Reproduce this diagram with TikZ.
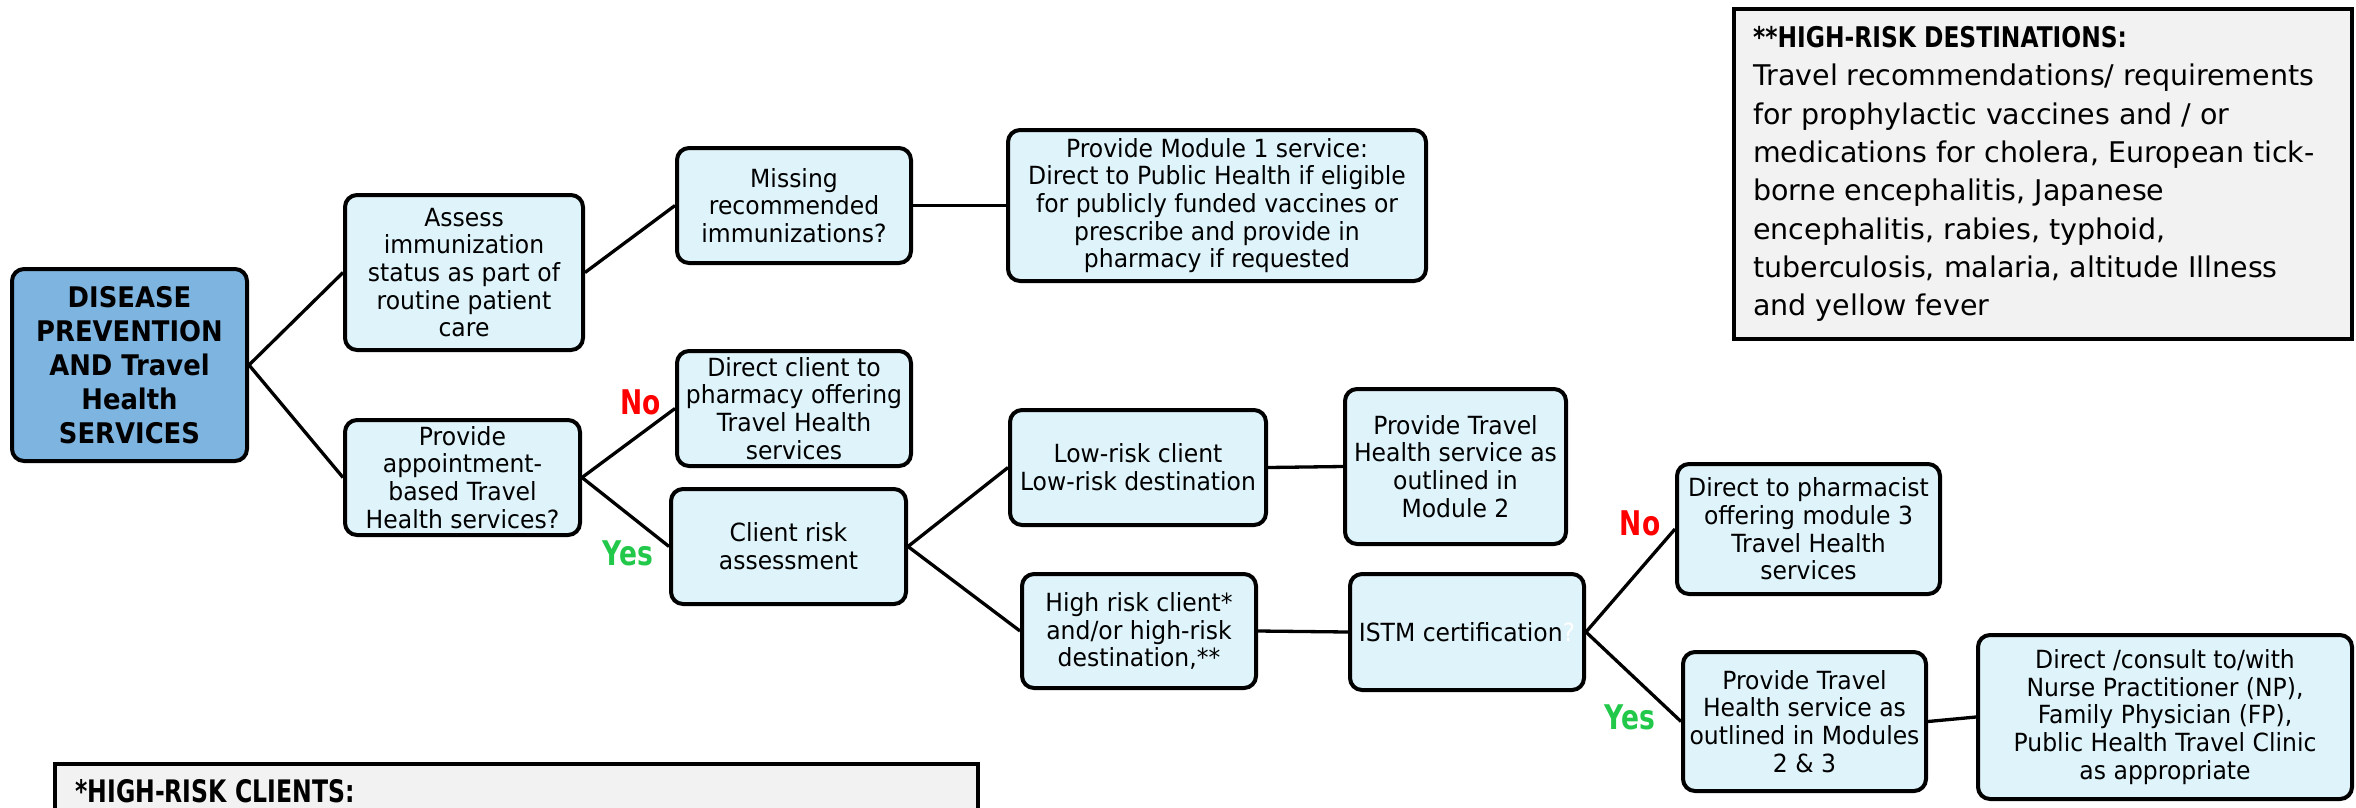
\documentclass[tikz,border=0pt]{standalone}
\usepackage{fontspec}
\setmainfont{DejaVu Sans}
\newfontfamily\flowfont[FakeStretch=0.94]{DejaVu Sans}
\newfontfamily\mainboxfont[FakeStretch=0.91]{DejaVu Sans}
\newfontfamily\headfont[FakeStretch=0.82]{DejaVu Sans}
\newfontfamily\clienthead[FakeStretch=0.76]{DejaVu Sans}
\newfontfamily\labfont[FakeStretch=0.78]{DejaVu Sans}
\newfontfamily\destfont{DejaVu Sans}
\definecolor{flowblue}{RGB}{222,243,250}
\definecolor{mainblue}{RGB}{126,180,224}
\definecolor{notegray}{RGB}{242,242,242}
\definecolor{yesgreen}{RGB}{34,200,74}
\tikzset{
  fbox/.style={draw=black, line width=4pt, rounded corners=12pt, fill=flowblue,
    align=center, inner sep=0pt, font=\flowfont\fontsize{25}{27.7}\selectfont},
  mbox/.style={fbox, fill=mainblue, font=\mainboxfont\bfseries\fontsize{28.4}{34}\selectfont},
  notebox/.style={draw=black, line width=4pt, fill=notegray},
  conn/.style={line width=3.3pt},
  nolab/.style={text=red, inner sep=0pt, font=\labfont\bfseries\fontsize{34}{34}\selectfont},
  yeslab/.style={text=yesgreen, inner sep=0pt, font=\labfont\bfseries\fontsize{34}{34}\selectfont}
}
\begin{document}
\begin{tikzpicture}[x=1pt,y=-1pt]
\useasboundingbox (0,0) rectangle (2356,807);

% main nodes
\node[mbox, minimum width=235, minimum height=192] (main) at (129.5,365)
  {DISEASE\\PREVENTION\\AND Travel\\Health\\SERVICES};
\node[fbox, minimum width=238, minimum height=155] (assess) at (464,272.5)
  {Assess\\immunization\\status as part of\\routine patient\\care};
\node[fbox, minimum width=235, minimum height=115] (appt) at (462.5,477.5)
  {Provide\\appointment-\\based Travel\\Health services?};
\node[fbox, minimum width=234, minimum height=115] (missing) at (794,205.5)
  {Missing\\recommended\\immunizations?};
\node[fbox, minimum width=418, minimum height=151] (module1) at (1217,205.5)
  {Provide Module 1 service:\\Direct to Public Health if eligible\\for publicly funded vaccines or\\prescribe and provide in\\pharmacy if requested};
\node[fbox, minimum width=234, minimum height=115] (directclient) at (794,408.5)
  {Direct client to\\pharmacy offering\\Travel Health\\services};
\node[fbox, minimum width=235, minimum height=115] (clientrisk) at (788.5,546.5)
  {Client risk\\assessment};
\node[fbox, minimum width=256, minimum height=115] (lowrisk) at (1138,467.5)
  {Low-risk client\\Low-risk destination};
\node[fbox, minimum width=221, minimum height=155] (mod2) at (1455.5,466.5)
  {Provide Travel\\Health service as\\outlined in\\Module 2};
\node[fbox, minimum width=234, minimum height=114] (highrisk) at (1139,631)
  {High risk client*\\and/or high-risk\\destination,**};
\node[fbox, minimum width=234, minimum height=116] (istm) at (1467,632)
  {ISTM certification{\color{white}?}};
\node[fbox, minimum width=263, minimum height=130] (pharmacist) at (1808.5,529)
  {Direct to pharmacist\\offering module 3\\Travel Health\\services};
\node[fbox, minimum width=243, minimum height=139] (mod23) at (1804.5,721.5)
  {Provide Travel\\Health service as\\outlined in Modules\\2 \& 3};
\node[fbox, minimum width=374, minimum height=164] (consult) at (2165,717)
  {Direct /consult to/with\\Nurse Practitioner (NP),\\Family Physician (FP),\\Public Health Travel Clinic\\as appropriate};

% connectors
\draw[conn] (main.east) -- (assess.west);
\draw[conn] (main.east) -- (appt.west);
\draw[conn] (assess.east) -- (missing.west);
\draw[conn] (missing.east) -- (module1.west);
\draw[conn] (appt.east) -- (directclient.west);
\draw[conn] (appt.east) -- (clientrisk.west);
\draw[conn] (clientrisk.east) -- (lowrisk.west);
\draw[conn] (clientrisk.east) -- (highrisk.west);
\draw[conn] (lowrisk.east) -- (mod2.west);
\draw[conn] (highrisk.east) -- (istm.west);
\draw[conn] (istm.east) -- (pharmacist.west);
\draw[conn] (istm.east) -- (mod23.west);
\draw[conn] (mod23.east) -- (consult.west);

% labels
\node[nolab] (no1) at (641,402) {No};
\node[yeslab] (yes1) at (628,553) {Yes};
\node[nolab] (no2) at (1640,523) {No};
\node[yeslab] (yes2) at (1630,717) {Yes};

% destinations note
\draw[notebox] (1734,9) rectangle (2352,339);
\node[anchor=west, align=left, inner sep=0pt, font=\destfont\fontsize{28.5}{38.3}\selectfont] (desttext) at (1753,174)
  {{\headfont\bfseries **HIGH-RISK DESTINATIONS:}\\
   Travel recommendations/ requirements\\
   for prophylactic vaccines and / or\\
   medications for cholera, European tick-\\
   borne encephalitis, Japanese\\
   encephalitis, rabies, typhoid,\\
   tuberculosis, malaria, altitude Illness\\
   and yellow fever};

% clients note (cut off at bottom)
\begin{scope}
\clip (0,0) rectangle (2356,807);
\draw[notebox] (55,764) rectangle (978,830);
\node[anchor=base west, inner sep=0pt, font=\clienthead\bfseries\fontsize{31}{31}\selectfont] (clienttext) at (75,802)
  {*HIGH-RISK CLIENTS:};
\end{scope}
\end{tikzpicture}
\end{document}
